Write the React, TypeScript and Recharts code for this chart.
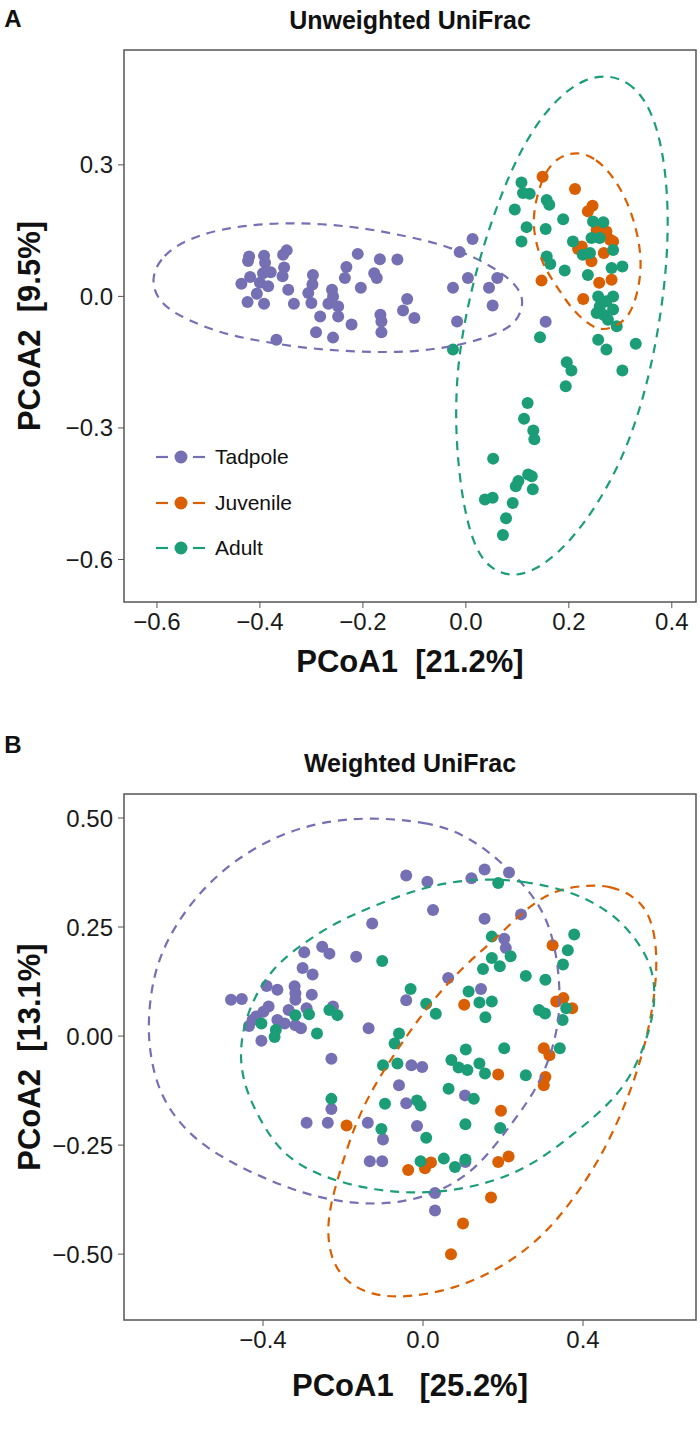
import React from "react";
import { ScatterChart, Scatter, XAxis, YAxis, ReferenceArea } from "recharts";

type Pt = [number, number];

const PURPLE = "#7570B3";
const ORANGE = "#D95F02";
const GREEN = "#1B9E77";

const GROUPS = ["Tadpole", "Juvenile", "Adult"];
const GROUP_COLORS = [PURPLE, ORANGE, GREEN];

// ---- Panel A: unweighted UniFrac ----
const A_X_TICKS = [-0.6, -0.4, -0.2, 0, 0.2, 0.4];
const A_Y_TICKS = [-0.6, -0.3, 0, 0.3];

const tadpoleA: Pt[] = [
  [-0.421, 0.091], [-0.423, 0.081], [-0.392, 0.093], [-0.39, 0.077], [-0.355, 0.095],
  [-0.348, 0.105], [-0.353, 0.066], [-0.356, 0.046], [-0.379, 0.055], [-0.394, 0.053],
  [-0.419, 0.044], [-0.436, 0.029], [-0.4, 0.031], [-0.384, 0.023], [-0.406, 0.006],
  [-0.424, -0.013], [-0.392, -0.017], [-0.345, 0.015], [-0.334, -0.017], [-0.297, 0.049],
  [-0.298, 0.027], [-0.306, 0.008], [-0.3, -0.015], [-0.283, -0.046], [-0.291, -0.082],
  [-0.26, 0.015], [-0.258, 0.0], [-0.267, -0.017], [-0.248, -0.023], [-0.248, -0.046],
  [-0.232, 0.067], [-0.235, 0.042], [-0.222, -0.064], [-0.21, 0.097], [-0.204, 0.02],
  [-0.178, 0.053], [-0.173, 0.042], [-0.167, 0.085], [-0.133, 0.084], [-0.166, -0.042],
  [-0.164, -0.057], [-0.164, -0.082], [-0.114, -0.006], [-0.122, -0.032], [-0.1, -0.049],
  [-0.368, -0.099], [-0.258, -0.094], [0.013, 0.131], [-0.012, 0.101], [-0.025, 0.02],
  [0.004, 0.042], [0.045, 0.02], [0.061, 0.042], [0.052, -0.021], [-0.017, -0.057],
  [0.155, -0.058],
];

const juvenileA: Pt[] = [
  [0.149, 0.273], [0.212, 0.245], [0.246, 0.207], [0.237, 0.194], [0.254, 0.152],
  [0.273, 0.148], [0.28, 0.129], [0.286, 0.125], [0.225, 0.114], [0.218, 0.108],
  [0.268, 0.099], [0.244, 0.08], [0.147, 0.036], [0.259, 0.031], [0.283, 0.038],
  [0.228, -0.006],
];

const adultA: Pt[] = [
  [0.108, 0.26], [0.111, 0.236], [0.124, 0.234], [0.095, 0.198], [0.157, 0.22],
  [0.162, 0.209], [0.189, 0.176], [0.118, 0.158], [0.155, 0.154], [0.108, 0.125],
  [0.208, 0.125], [0.157, 0.091], [0.164, 0.074], [0.192, 0.059], [0.247, 0.171],
  [0.267, 0.169], [0.244, 0.133], [0.26, 0.133], [0.286, 0.106], [0.227, 0.095],
  [0.241, 0.099], [0.283, 0.065], [0.304, 0.068], [0.237, 0.049], [0.286, 0.0],
  [0.257, 0.0], [0.26, -0.023], [0.254, -0.038], [0.273, -0.011], [0.286, -0.03],
  [0.267, -0.042], [0.276, -0.053], [0.293, -0.068], [0.144, -0.093], [0.257, -0.099],
  [0.273, -0.121], [0.33, -0.108], [0.304, -0.169], [-0.025, -0.121], [0.196, -0.15],
  [0.205, -0.169], [0.194, -0.205], [0.12, -0.243], [0.113, -0.279], [0.131, -0.306],
  [0.133, -0.326], [0.053, -0.37], [0.102, -0.421], [0.121, -0.406], [0.128, -0.41],
  [0.097, -0.433], [0.13, -0.44], [0.037, -0.463], [0.052, -0.459], [0.091, -0.471],
  [0.078, -0.506], [0.072, -0.544],
];

// ellipse outlines
const tadpoleEllA: Pt[] = [
  [-0.614, 0.038], [-0.59, 0.095], [-0.536, 0.134], [-0.458, 0.159], [-0.348, 0.17],
  [-0.219, 0.161], [-0.109, 0.136], [-0.045, 0.118], [0.021, 0.088], [0.08, 0.047],
  [0.117, 0.0], [0.101, -0.058], [0.066, -0.083], [0.002, -0.108], [-0.064, -0.121],
  [-0.128, -0.128], [-0.225, -0.126], [-0.322, -0.117], [-0.414, -0.099], [-0.478, -0.083],
  [-0.542, -0.053], [-0.594, -0.019],
];

const juvenileEllA: Pt[] = [
  [0.216, 0.332], [0.254, 0.314], [0.285, 0.275], [0.313, 0.22], [0.334, 0.145],
  [0.342, 0.072], [0.334, 0.008], [0.318, -0.046], [0.289, -0.071], [0.26, -0.078],
  [0.231, -0.058], [0.202, -0.023], [0.177, 0.022], [0.15, 0.07], [0.136, 0.122],
  [0.13, 0.17], [0.136, 0.22], [0.15, 0.275], [0.175, 0.316],
];

const adultEllA: Pt[] = [
  [0.275, 0.505], [0.315, 0.49], [0.348, 0.45], [0.372, 0.385], [0.388, 0.29],
  [0.394, 0.17], [0.388, 0.04], [0.372, -0.09], [0.35, -0.21], [0.318, -0.33],
  [0.278, -0.43], [0.232, -0.515], [0.185, -0.58], [0.135, -0.625], [0.09, -0.64],
  [0.048, -0.622], [0.018, -0.577], [-0.005, -0.48], [-0.018, -0.35], [-0.02, -0.235],
  [-0.013, -0.13], [0.003, -0.025], [0.025, 0.08], [0.055, 0.19], [0.092, 0.3],
  [0.137, 0.395], [0.185, 0.46], [0.232, 0.497],
];

// ---- Panel B: weighted UniFrac ----
const B_X_TICKS = [-0.4, 0, 0.4];
const B_Y_TICKS = [-0.5, -0.25, 0, 0.25, 0.5];

const tadpoleB: Pt[] = [
  [-0.042, 0.368], [0.011, 0.354], [0.121, 0.362], [0.154, 0.382], [0.215, 0.375],
  [0.025, 0.289], [0.154, 0.269], [0.245, 0.279], [-0.127, 0.258], [-0.297, 0.192],
  [-0.252, 0.205], [-0.234, 0.189], [-0.167, 0.182], [-0.301, 0.156], [-0.276, 0.141],
  [-0.391, 0.115], [-0.364, 0.106], [-0.321, 0.114], [-0.319, 0.098], [-0.278, 0.095],
  [-0.48, 0.083], [-0.453, 0.085], [-0.319, 0.083], [-0.386, 0.068], [-0.399, 0.056],
  [-0.336, 0.06], [-0.291, 0.064], [-0.225, 0.068], [-0.417, 0.045], [-0.426, 0.037],
  [-0.435, 0.023], [-0.364, 0.037], [-0.346, 0.029], [-0.319, 0.025], [-0.305, 0.018],
  [-0.404, -0.011], [-0.136, 0.018], [-0.229, -0.052], [0.203, 0.223], [0.207, 0.202],
  [0.063, 0.133], [0.145, 0.108], [-0.042, 0.082], [-0.029, -0.067], [-0.002, -0.071],
  [-0.06, -0.113], [0.105, -0.136], [-0.042, -0.154], [-0.229, -0.167], [-0.291, -0.199],
  [-0.238, -0.199], [-0.138, -0.199], [-0.015, -0.206], [-0.1, -0.237], [-0.133, -0.287],
  [-0.102, -0.287], [0.106, -0.289], [0.03, -0.36], [0.03, -0.4],
];

const juvenileB: Pt[] = [
  [0.324, 0.208], [0.333, 0.079], [0.351, 0.087], [0.373, 0.064], [0.103, 0.072],
  [0.302, -0.028], [0.316, -0.044], [0.188, -0.088], [0.306, -0.094], [0.302, -0.113],
  [0.195, -0.171], [-0.191, -0.205], [0.188, -0.289], [0.214, -0.276], [-0.037, -0.307],
  [0.005, -0.303], [0.02, -0.29], [0.17, -0.37], [0.1, -0.43], [0.07, -0.5],
];

const adultB: Pt[] = [
  [0.188, 0.351], [0.172, 0.228], [0.172, 0.179], [0.192, 0.16], [0.219, 0.183],
  [0.15, 0.154], [0.257, 0.138], [0.306, 0.129], [0.378, 0.233], [0.362, 0.197],
  [0.35, 0.164], [-0.102, 0.172], [-0.031, 0.108], [0.114, 0.102], [0.141, 0.077],
  [0.172, 0.079], [0.008, 0.074], [0.032, 0.051], [0.156, 0.043], [0.29, 0.06],
  [0.305, 0.052], [0.358, 0.064], [0.349, 0.037], [-0.404, 0.029], [-0.368, 0.014],
  [-0.371, -0.002], [-0.319, 0.048], [-0.285, 0.05], [-0.234, 0.06], [-0.214, 0.048],
  [-0.265, 0.006], [-0.06, 0.006], [-0.071, -0.017], [-0.1, -0.067], [-0.064, -0.063],
  [0.107, -0.031], [0.203, -0.028], [0.071, -0.055], [0.089, -0.072], [0.111, -0.078],
  [0.141, -0.063], [0.155, -0.086], [0.257, -0.09], [0.342, -0.028], [0.064, -0.121],
  [0.127, -0.144], [-0.229, -0.144], [-0.095, -0.155], [-0.015, -0.148], [-0.006, -0.159],
  [-0.104, -0.213], [0.008, -0.233], [0.106, -0.202], [0.193, -0.211], [0.052, -0.281],
  [0.106, -0.283], [-0.006, -0.287], [0.08, -0.3],
];

const tadpoleEllB: Pt[] = [
  [-0.131, 0.502], [0.011, 0.491], [0.101, 0.464], [0.19, 0.406], [0.288, 0.314],
  [0.33, 0.22], [0.346, 0.091], [0.333, -0.009], [0.29, -0.115], [0.225, -0.197],
  [0.14, -0.3], [0.05, -0.355], [-0.06, -0.385], [-0.18, -0.385], [-0.3, -0.362],
  [-0.42, -0.318], [-0.54, -0.26], [-0.616, -0.195], [-0.664, -0.12], [-0.685, -0.03],
  [-0.687, 0.05], [-0.672, 0.15], [-0.63, 0.24], [-0.56, 0.33], [-0.47, 0.405],
  [-0.36, 0.462], [-0.25, 0.492],
];

const juvenileEllB: Pt[] = [
  [0.404, 0.346], [0.47, 0.345], [0.53, 0.32], [0.566, 0.28], [0.582, 0.22],
  [0.585, 0.15], [0.574, 0.06], [0.55, -0.04], [0.51, -0.15], [0.45, -0.27],
  [0.38, -0.37], [0.3, -0.46], [0.2, -0.53], [0.08, -0.58], [-0.04, -0.6],
  [-0.13, -0.595], [-0.2, -0.56], [-0.235, -0.5], [-0.24, -0.42], [-0.215, -0.33],
  [-0.17, -0.2], [-0.12, -0.11], [-0.06, -0.025], [0.011, 0.068], [0.1, 0.16],
  [0.181, 0.222], [0.26, 0.295], [0.33, 0.335],
];

const adultEllB: Pt[] = [
  [0.136, 0.362], [0.252, 0.356], [0.369, 0.333], [0.467, 0.287], [0.529, 0.229],
  [0.574, 0.16], [0.582, 0.083], [0.565, 0.006], [0.529, -0.078], [0.476, -0.148],
  [0.379, -0.224], [0.264, -0.303], [0.14, -0.345], [0.01, -0.362], [-0.12, -0.355],
  [-0.25, -0.325], [-0.348, -0.276], [-0.406, -0.197], [-0.45, -0.11], [-0.46, -0.025],
  [-0.435, 0.068], [-0.381, 0.152], [-0.31, 0.206], [-0.221, 0.26], [-0.114, 0.302],
  [0.011, 0.345],
];

const toRows = (pts: Pt[]) => pts.map(([x, y]) => ({ x, y }));
const minus = (s: string) => s.replace("-", "\u2212");
const fmt1 = (v: number) => minus(v.toFixed(1));
const fmt2 = (v: number) => minus(v.toFixed(2));

const FONT = '"Liberation Sans", Arial, Helvetica, sans-serif';
const tickStyle = { fill: "#1a1a1a", fontSize: 24 };
const dash = "9 7";

function Panel(props: any) {
  const { top, plotTop, xDomain, yDomain, xTicks, yTicks, xFmt, yFmt, points, ellipses } = props;
  return (
    <div style={{ position: "absolute", left: 0, top }}>
      <ScatterChart width={700} height={718} margin={{ top: plotTop, right: 4, bottom: 86, left: 0 }}>
        <XAxis
          type="number"
          dataKey="x"
          domain={xDomain}
          ticks={xTicks}
          interval={0}
          allowDataOverflow
          tickFormatter={xFmt}
          axisLine={false}
          tickLine={{ stroke: "#555" }}
          tickSize={6}
          tickMargin={5}
          tick={tickStyle}
          height={30}
        />
        <YAxis
          type="number"
          dataKey="y"
          domain={yDomain}
          ticks={yTicks}
          interval={0}
          allowDataOverflow
          tickFormatter={yFmt}
          axisLine={false}
          tickLine={{ stroke: "#555" }}
          tickSize={6}
          tickMargin={5}
          tick={tickStyle}
          width={124}
        />
        <ReferenceArea
          x1={xDomain[0]}
          x2={xDomain[1]}
          y1={yDomain[0]}
          y2={yDomain[1]}
          fill="none"
          stroke="#555"
          strokeWidth={1.5}
          ifOverflow="visible"
        />
        {points.map((pts: Pt[], i: number) => (
          <Scatter
            key={"p" + i}
            data={toRows(pts)}
            fill={GROUP_COLORS[i]}
            isAnimationActive={false}
            shape={(p: any) => <circle cx={p.cx} cy={p.cy} r={6} fill={GROUP_COLORS[i]} />}
          />
        ))}
        {ellipses.map((pts: Pt[], i: number) => (
          <Scatter
            key={"e" + i}
            data={toRows(pts)}
            fill={GROUP_COLORS[i]}
            isAnimationActive={false}
            line={{ stroke: GROUP_COLORS[i], strokeWidth: 2.2, strokeDasharray: dash }}
            lineJointType="basisClosed"
            shape={() => <g />}
          />
        ))}
      </ScatterChart>
    </div>
  );
}

const abs = (x: number, y: number, extra: any = {}) => ({
  position: "absolute" as const,
  left: x,
  top: y,
  transform: "translate(-50%, -50%)",
  whiteSpace: "pre" as const,
  ...extra,
});

const axisTitle = { fontSize: 31, fontWeight: "bold" };

export default function App() {
  return (
    <div style={{ position: "relative", width: 700, height: 1436, fontFamily: FONT, color: "#111", background: "#fff" }}>
      <style>{"body{margin:0}"}</style>

      <Panel
        top={0}
        plotTop={50}
        xDomain={[-0.664, 0.447]}
        yDomain={[-0.697, 0.562]}
        xTicks={A_X_TICKS}
        yTicks={A_Y_TICKS}
        xFmt={fmt1}
        yFmt={fmt1}
        points={[tadpoleA, juvenileA, adultA]}
        ellipses={[tadpoleEllA, juvenileEllA, adultEllA]}
      />
      <Panel
        top={718}
        plotTop={76}
        xDomain={[-0.7475, 0.6825]}
        yDomain={[-0.651, 0.555]}
        xTicks={B_X_TICKS}
        yTicks={B_Y_TICKS}
        xFmt={fmt1}
        yFmt={fmt2}
        points={[tadpoleB, juvenileB, adultB]}
        ellipses={[tadpoleEllB, juvenileEllB, adultEllB]}
      />

      {/* panel A labels */}
      <div style={abs(13, 19, { fontSize: 24, fontWeight: "bold" })}>A</div>
      <div style={abs(410, 20, { fontSize: 25, fontWeight: "bold" })}>Unweighted UniFrac</div>
      <div style={abs(410, 662, axisTitle)}>PCoA1  [21.2%]</div>
      <div style={abs(30, 326, { ...axisTitle, transform: "translate(-50%, -50%) rotate(-90deg)" })}>
        PCoA2  [9.5%]
      </div>

      {/* legend inside panel A */}
      {GROUPS.map((g, i) => (
        <div
          key={g}
          style={{ position: "absolute", left: 156, top: 457 + i * 45.5 - 12, height: 24, display: "flex", alignItems: "center" }}
        >
          <svg width={50} height={24}>
            <line x1={0} x2={12} y1={12} y2={12} stroke={GROUP_COLORS[i]} strokeWidth={2.2} />
            <line x1={37} x2={49} y1={12} y2={12} stroke={GROUP_COLORS[i]} strokeWidth={2.2} />
            <circle cx={25} cy={12} r={6.5} fill={GROUP_COLORS[i]} />
          </svg>
          <span style={{ marginLeft: 9, fontSize: 21 }}>{g}</span>
        </div>
      ))}

      {/* panel B labels */}
      <div style={abs(13, 745, { fontSize: 24, fontWeight: "bold" })}>B</div>
      <div style={abs(410, 763, { fontSize: 25, fontWeight: "bold" })}>Weighted UniFrac</div>
      <div style={abs(410, 1386, axisTitle)}>PCoA1   [25.2%]</div>
      <div style={abs(30, 1057, { ...axisTitle, transform: "translate(-50%, -50%) rotate(-90deg)" })}>
        PCoA2  [13.1%]
      </div>
    </div>
  );
}
